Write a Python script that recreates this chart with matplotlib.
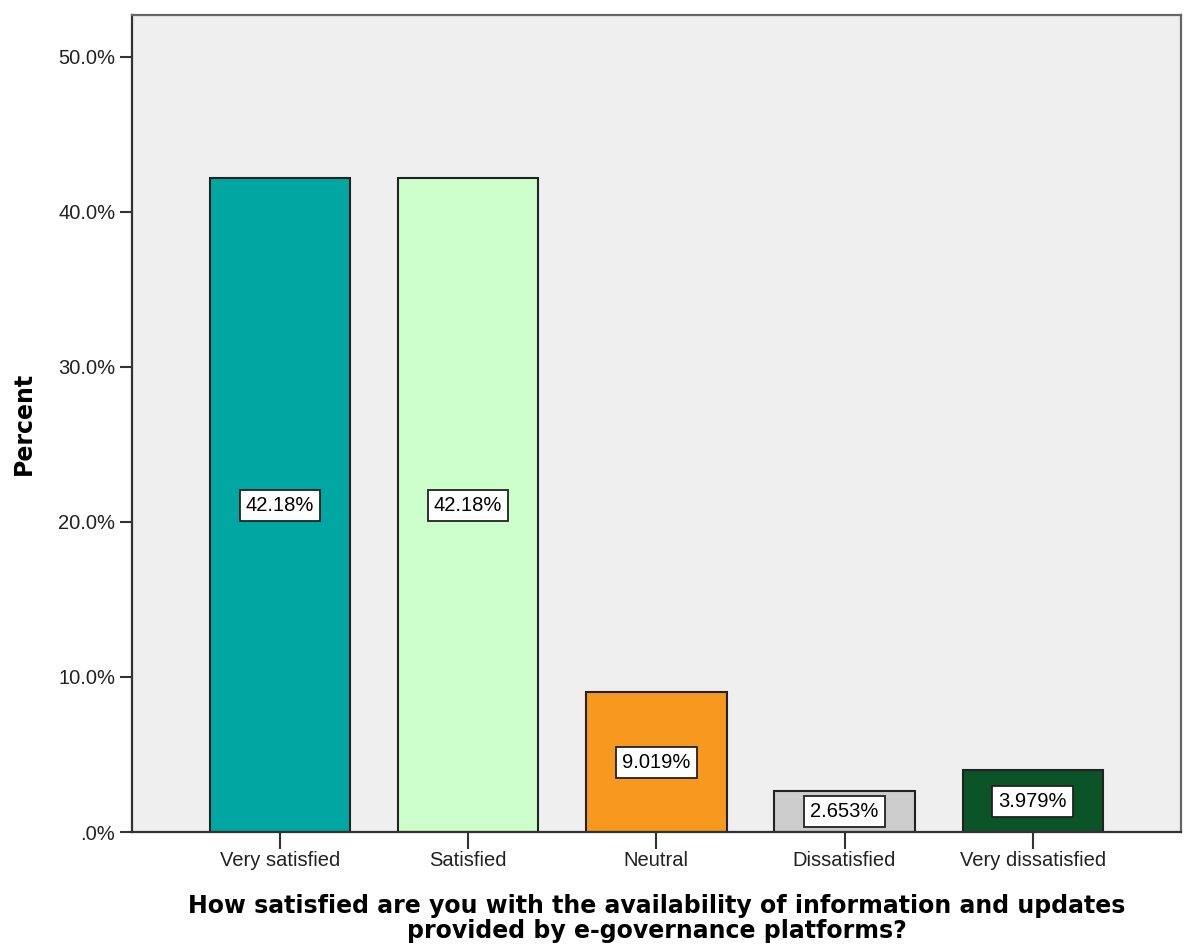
import matplotlib
matplotlib.use("Agg")
import matplotlib.pyplot as plt
from matplotlib.ticker import FuncFormatter

categories = ["Very satisfied", "Satisfied", "Neutral", "Dissatisfied", "Very dissatisfied"]
percents = [42.18, 42.18, 9.019, 2.653, 3.979]
value_labels = ["42.18%", "42.18%", "9.019%", "2.653%", "3.979%"]
colors = ["#00a6a2", "#ccffcc", "#f7991e", "#cccccc", "#0b5428"]
y_ticks = [0, 10, 20, 30, 40, 50]

fig = plt.figure(figsize=(11.87, 9.47), dpi=100)
ax = fig.add_axes([132 / 1187, 115 / 947, (1181 - 132) / 1187, (832 - 15) / 947])
ax.set_facecolor("#efefef")

x = range(len(categories))
ax.bar(x, percents, width=0.746, color=colors, edgecolor="#222222", linewidth=1.5, zorder=2)

for xi, val, lab in zip(x, percents, value_labels):
    ax.text(xi, val / 2, lab, ha="center", va="center", fontsize=14.5,
            family="Liberation Sans", color="black", zorder=3,
            bbox=dict(boxstyle="square,pad=0.3", facecolor="white",
                      edgecolor="#222222", linewidth=1.3))

ax.set_xlim(-0.786, 4.788)
ax.set_ylim(0, 52.7)
ax.set_xticks(list(x))
ax.set_xticklabels(categories, family="Liberation Sans", fontsize=14.5, color="#222222")
ax.set_yticks(y_ticks)
ax.yaxis.set_major_formatter(FuncFormatter(lambda v, p: ".0%" if v == 0 else f"{v:.1f}%"))
for lbl in ax.get_yticklabels():
    lbl.set_family("Liberation Sans")
    lbl.set_fontsize(14.5)
    lbl.set_color("#222222")

ax.tick_params(axis="y", direction="out", length=9, width=1.5, color="#333333", pad=3)
ax.tick_params(axis="x", direction="out", length=12, width=1.5, color="#333333", pad=2)

for side in ["left", "bottom"]:
    ax.spines[side].set_color("#333333")
    ax.spines[side].set_linewidth(1.6)
for side in ["top", "right"]:
    ax.spines[side].set_color("#666666")
    ax.spines[side].set_linewidth(1.6)

ax.set_ylabel("Percent", fontsize=17, fontweight="bold", family="DejaVu Sans", labelpad=16)
ax.set_xlabel("How satisfied are you with the availability of information and updates\n"
              "provided by e-governance platforms?",
              fontsize=17, fontweight="bold", family="DejaVu Sans", labelpad=17,
              linespacing=1.05)

fig.savefig("out.png", dpi=100)
